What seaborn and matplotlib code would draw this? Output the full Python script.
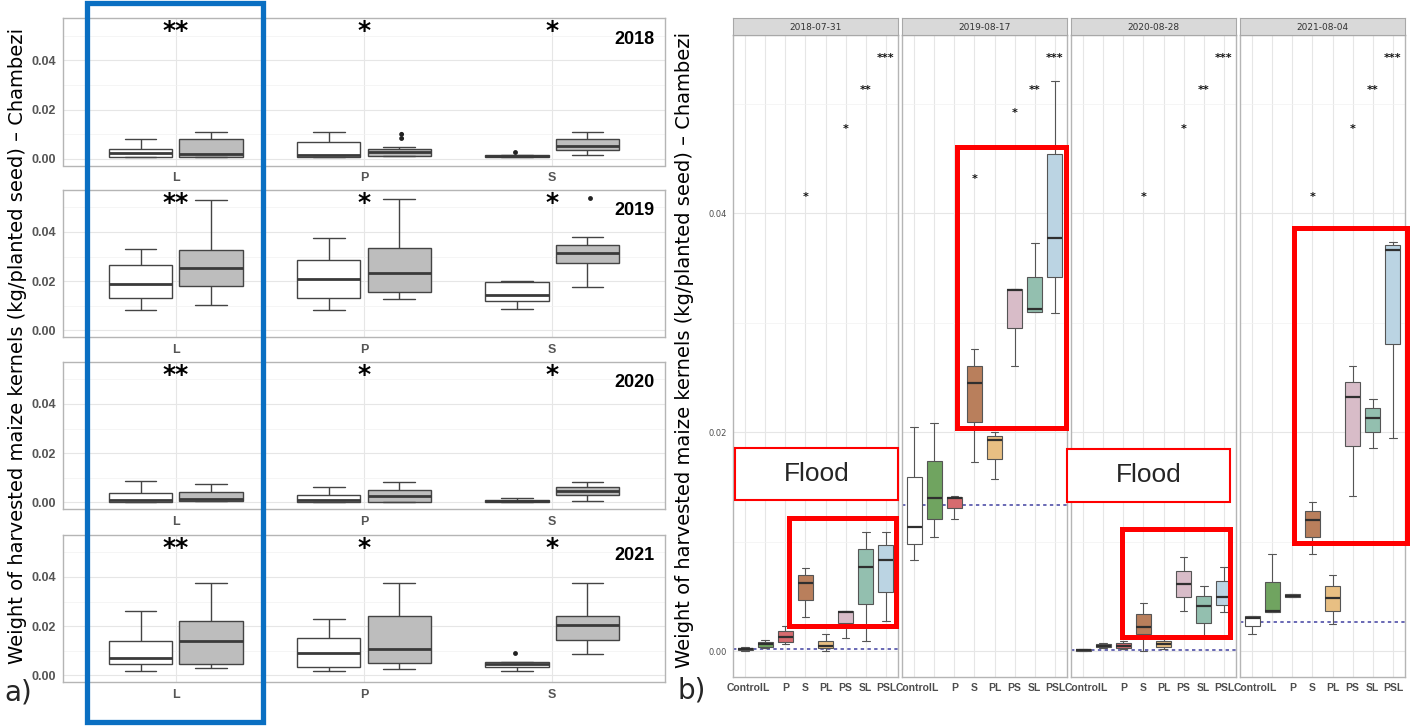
import numpy as np
import pandas as pd
import matplotlib
matplotlib.use("Agg")
import matplotlib.pyplot as plt
from matplotlib.patches import Rectangle
from matplotlib.ticker import MultipleLocator
from matplotlib import font_manager
import seaborn as sns

# ======================= DATA : panel a) =======================
years = ["2018", "2019", "2020", "2021"]
groups = ["L", "P", "S"]
conditions = ["without", "with"]
group_sig = ["**", "*", "*"]
# box summaries, columns: L-without, L-with, P-without, P-with, S-without, S-with
a_lo = [
    [0.0005, 0.0008, 0.0008, 0.0010, 0.0005, 0.0014],
    [0.0082, 0.0102, 0.0084, 0.0125, 0.0086, 0.0177],
    [0.0000, 0.0003, 0.0000, 0.0000, 0.0000, 0.0003],
    [0.0015, 0.0031, 0.0015, 0.0027, 0.0017, 0.0087],
]
a_q1 = [
    [0.0005, 0.0008, 0.0008, 0.0012, 0.0005, 0.0034],
    [0.0131, 0.0180, 0.0132, 0.0155, 0.0120, 0.0273],
    [0.0000, 0.0003, 0.0000, 0.0000, 0.0000, 0.0031],
    [0.0047, 0.0047, 0.0034, 0.0051, 0.0034, 0.0142],
]
a_med = [
    [0.0021, 0.0017, 0.0014, 0.0025, 0.0010, 0.0052],
    [0.0188, 0.0253, 0.0208, 0.0231, 0.0143, 0.0313],
    [0.0007, 0.0013, 0.0007, 0.0024, 0.0003, 0.0044],
    [0.0071, 0.0138, 0.0089, 0.0105, 0.0044, 0.0205],
]
a_q3 = [
    [0.0041, 0.0082, 0.0067, 0.0038, 0.0014, 0.0082],
    [0.0265, 0.0327, 0.0287, 0.0336, 0.0196, 0.0346],
    [0.0038, 0.0043, 0.0030, 0.0051, 0.0007, 0.0061],
    [0.0138, 0.0219, 0.0152, 0.0239, 0.0054, 0.0239],
]
a_hi = [
    [0.0080, 0.0108, 0.0108, 0.0047, 0.0014, 0.0108],
    [0.0331, 0.0531, 0.0377, 0.0535, 0.0201, 0.0380],
    [0.0085, 0.0074, 0.0061, 0.0084, 0.0016, 0.0084],
    [0.0262, 0.0376, 0.0230, 0.0376, 0.0054, 0.0376],
]
a_out_year = ["2018", "2018", "2018", "2019", "2021"]
a_out_group = ["P", "P", "S", "S", "S"]
a_out_cond = ["with", "with", "without", "with", "without"]
a_out_value = [0.0099, 0.0082, 0.0027, 0.0537, 0.0089]

# ======================= DATA : panel b) =======================
dates = ["2018-07-31", "2019-08-17", "2020-08-28", "2021-08-04"]
treatments = ["Control", "L", "P", "S", "PL", "PS", "SL", "PSL"]
b_lo = [
    [0.0000, 0.0003, 0.0006, 0.0031, 0.0000, 0.0012, 0.0009, 0.0027],
    [0.0083, 0.0104, 0.0121, 0.0173, 0.0157, 0.0260, 0.0310, 0.0309],
    [0.0000, 0.0003, 0.0002, 0.0000, 0.0002, 0.0037, 0.0012, 0.0036],
    [0.0016, 0.0036, 0.0049, 0.0089, 0.0025, 0.0142, 0.0185, 0.0195],
]
b_q1 = [
    [0.0001, 0.0004, 0.0008, 0.0047, 0.0003, 0.0026, 0.0043, 0.0054],
    [0.0098, 0.0121, 0.0131, 0.0209, 0.0175, 0.0295, 0.0310, 0.0342],
    [0.0000, 0.0004, 0.0003, 0.0016, 0.0004, 0.0049, 0.0026, 0.0042],
    [0.0023, 0.0036, 0.0049, 0.0104, 0.0037, 0.0187, 0.0200, 0.0280],
]
b_med = [
    [0.0002, 0.0006, 0.0013, 0.0062, 0.0005, 0.0036, 0.0077, 0.0083],
    [0.0113, 0.0140, 0.0140, 0.0245, 0.0193, 0.0330, 0.0312, 0.0377],
    [0.0001, 0.0005, 0.0005, 0.0022, 0.0006, 0.0061, 0.0041, 0.0049],
    [0.0030, 0.0037, 0.0050, 0.0120, 0.0048, 0.0232, 0.0213, 0.0366],
]
b_q3 = [
    [0.0003, 0.0008, 0.0018, 0.0069, 0.0009, 0.0037, 0.0093, 0.0097],
    [0.0159, 0.0174, 0.0141, 0.0260, 0.0196, 0.0331, 0.0342, 0.0454],
    [0.0002, 0.0006, 0.0007, 0.0034, 0.0009, 0.0073, 0.0050, 0.0064],
    [0.0032, 0.0063, 0.0052, 0.0128, 0.0059, 0.0246, 0.0222, 0.0371],
]
b_hi = [
    [0.0004, 0.0010, 0.0023, 0.0076, 0.0016, 0.0037, 0.0109, 0.0109],
    [0.0205, 0.0208, 0.0142, 0.0276, 0.0200, 0.0331, 0.0373, 0.0521],
    [0.0002, 0.0007, 0.0009, 0.0044, 0.0011, 0.0086, 0.0059, 0.0077],
    [0.0032, 0.0089, 0.0052, 0.0136, 0.0069, 0.0260, 0.0230, 0.0374],
]
b_control_ref = [0.0002, 0.0133, 0.0001, 0.00265]
sig_treatments = ["S", "PS", "SL", "PSL"]
sig_labels = ["*", "*", "**", "***"]
sig_y = [
    [0.0415, 0.0477, 0.0512, 0.0542],
    [0.0431, 0.0491, 0.0512, 0.0542],
    [0.0415, 0.0477, 0.0512, 0.0542],
    [0.0415, 0.0477, 0.0512, 0.0542],
]
treat_colors = ["#ffffff", "#6aaf55", "#e8595e", "#c97b4c", "#f9c272",
                "#ddb7c7", "#8cc6b1", "#b4d6ea"]
cond_colors = ["#ffffff", "#bdbdbd"]
ylabel = "Weight of harvested maize kernels (kg/planted seed) \u2013 Chambezi"

# ======================= STYLE =======================
sns.set_theme(style="whitegrid")
avail = {f.name for f in font_manager.fontManager.ttflist}
NARROW = "Liberation Sans Narrow" if "Liberation Sans Narrow" in avail else "Liberation Sans"
plt.rcParams["font.family"] = ["DejaVu Sans"]

W, H = 1410, 727
fig = plt.figure(figsize=(W / 100, H / 100), dpi=100)
fig.patch.set_facecolor("white")


def fx(px):
    return px / W


def fy(py):
    return 1 - py / H


GRID = "#e6e6e6"
MINOR = "#f2f2f2"
BORDER = "#b5b5b5"


def style_axes(ax):
    ax.set_facecolor("white")
    ax.set_axisbelow(True)
    ax.yaxis.set_major_locator(MultipleLocator(0.02))
    ax.yaxis.set_minor_locator(MultipleLocator(0.01))
    ax.grid(True, which="major", axis="both", color=GRID, lw=0.8)
    ax.grid(True, which="minor", axis="y", color=MINOR, lw=0.5)
    for s in ax.spines.values():
        s.set_visible(True)
        s.set_color(BORDER)
        s.set_linewidth(1.0)
    ax.set_xlabel("")
    ax.set_ylabel("")


# ======================= PANEL a) =======================
rows = []
for yi, yr in enumerate(years):
    for k in range(6):
        for stat in (a_lo, a_q1, a_med, a_q3, a_hi):
            rows.append((yr, groups[k // 2], conditions[k % 2], stat[yi][k]))
df_a = pd.DataFrame(rows, columns=["year", "group", "cond", "value"])
df_out = pd.DataFrame({"year": a_out_year, "group": a_out_group,
                       "cond": a_out_cond, "value": a_out_value})

a_tops = [18.5, 190, 362, 535]
a_h = 147
for yi, yr in enumerate(years):
    ax = fig.add_axes([fx(63), fy(a_tops[yi] + a_h), fx(602), a_h / H])
    sub = df_a[df_a.year == yr]
    sns.boxplot(data=sub, x="group", y="value", hue="cond", order=groups,
                hue_order=conditions, palette=cond_colors, whis=(0, 100),
                width=0.75, gap=0.1, linewidth=1.0, linecolor="#444444",
                medianprops={"linewidth": 2.0, "color": "#3a3a3a"},
                showfliers=False, legend=False, ax=ax)
    so = df_out[df_out.year == yr]
    if len(so):
        sns.stripplot(data=so, x="group", y="value", hue="cond", order=groups,
                      hue_order=conditions, palette=["#222222", "#222222"],
                      dodge=True, jitter=False, size=3.5, legend=False, ax=ax)
    style_axes(ax)
    ax.set_xlim(-0.6, 2.6)
    ax.set_ylim(-0.0028, 0.0571)
    ax.yaxis.set_major_formatter(matplotlib.ticker.FormatStrFormatter("%.2f"))
    ax.tick_params(axis="both", which="major", length=3, color="#666666",
                   labelsize=9, labelcolor="#555555", pad=2, width=0.8)
    ax.tick_params(axis="both", which="minor", length=0)
    for lab in ax.get_yticklabels() + ax.get_xticklabels():
        lab.set_fontfamily(NARROW)
        lab.set_fontweight("bold")
    for gi, g in enumerate(groups):
        ax.text(gi, 0.0568, group_sig[gi], ha="center", va="top",
                fontsize=18, fontweight="bold", color="black")
    ax.text(0.983, 0.86, yr, transform=ax.transAxes, ha="right", va="center",
            fontsize=13, fontweight="bold", family=NARROW, color="black")

# ======================= PANEL b) =======================
rows = []
for di, d in enumerate(dates):
    for k, t in enumerate(treatments):
        for stat in (b_lo, b_q1, b_med, b_q3, b_hi):
            rows.append((d, t, stat[di][k]))
df_b = pd.DataFrame(rows, columns=["date", "treatment", "value"])

b_lefts = [733, 902, 1071, 1240]
b_w = 165
b_top, b_bot = 35, 677
for di, d in enumerate(dates):
    ax = fig.add_axes([fx(b_lefts[di]), fy(b_bot), fx(b_w), (b_bot - b_top) / H])
    sub = df_b[df_b.date == d]
    sns.boxplot(data=sub, x="treatment", y="value", hue="treatment",
                order=treatments, hue_order=treatments, palette=treat_colors,
                whis=(0, 100), width=0.75, linewidth=0.8, linecolor="#555555",
                medianprops={"linewidth": 1.6, "color": "#2f2f2f"},
                showfliers=False, legend=False, ax=ax)
    style_axes(ax)
    ax.axhline(b_control_ref[di], color="#4040a0", lw=1.1, ls=(0, (2.2, 2.2)),
               zorder=1.5)
    ax.set_xlim(-0.6, 7.6)
    ax.set_ylim(-0.00237, 0.05626)
    ax.yaxis.set_major_formatter(matplotlib.ticker.FormatStrFormatter("%.2f"))
    ax.tick_params(axis="both", which="major", length=2.5, color="#777777",
                   width=0.6, pad=2)
    ax.tick_params(axis="both", which="minor", length=0)
    ax.tick_params(axis="x", labelsize=7.5, labelcolor="#4d4d4d")
    ax.tick_params(axis="y", labelsize=6, labelcolor="#4d4d4d")
    for lab in ax.get_xticklabels():
        lab.set_fontfamily(NARROW)
        lab.set_fontweight("bold")
    if di > 0:
        ax.tick_params(axis="y", labelleft=False, length=0)
    for si, st in enumerate(sig_treatments):
        ax.text(treatments.index(st), sig_y[di][si], sig_labels[si],
                ha="center", va="center", fontsize=8, fontweight="bold",
                color="#111111")
    # facet strip
    sax = fig.add_axes([fx(b_lefts[di]), fy(b_top), fx(b_w), (b_top - 18) / H])
    sax.set_facecolor("#d9d9d9")
    sax.set_xticks([])
    sax.set_yticks([])
    sax.grid(False)
    for s in sax.spines.values():
        s.set_visible(True)
        s.set_color("#a8a8a8")
        s.set_linewidth(0.8)
    sax.text(0.5, 0.45, d, ha="center", va="center", fontsize=6.5,
             color="#333333", transform=sax.transAxes)

# ======================= ANNOTATIONS =======================
fig.text(fx(18), fy(346), ylabel, rotation=90, ha="center", va="center",
         fontsize=14, color="black")
fig.text(fx(684), fy(350), ylabel, rotation=90, ha="center", va="center",
         fontsize=14, color="black")
fig.text(fx(18), fy(693), "a)", ha="center", va="center", fontsize=20)
fig.text(fx(692), fy(690), "b)", ha="center", va="center", fontsize=20)


def fig_rect(x0, y0, x1, y1, color, lw):
    r = Rectangle((fx(x0), fy(y1)), fx(x1 - x0), (y1 - y0) / H,
                  transform=fig.transFigure, fill=False, edgecolor=color,
                  linewidth=lw, zorder=10)
    fig.add_artist(r)


fig_rect(87, 3, 263, 722, "#0a6fc2", 3.8)
fig_rect(789, 518, 896, 626, "#ff0000", 3.6)
fig_rect(957, 147, 1066, 428, "#ff0000", 3.6)
fig_rect(1122, 529, 1230, 637, "#ff0000", 3.6)
fig_rect(1294, 228, 1407, 543, "#ff0000", 3.6)
for (x0, y0, x1, y1) in [(735, 448, 898, 500), (1067, 449, 1230, 502)]:
    r = Rectangle((fx(x0), fy(y1)), fx(x1 - x0), (y1 - y0) / H,
                  transform=fig.transFigure, facecolor="white",
                  edgecolor="#ff0000", linewidth=1.5, zorder=10)
    fig.add_artist(r)
    fig.text(fx((x0 + x1) / 2), fy((y0 + y1) / 2), "Flood", ha="center",
             va="center", fontsize=19, family="Liberation Sans", zorder=11)

fig.savefig("out.png", dpi=100, facecolor="white")
